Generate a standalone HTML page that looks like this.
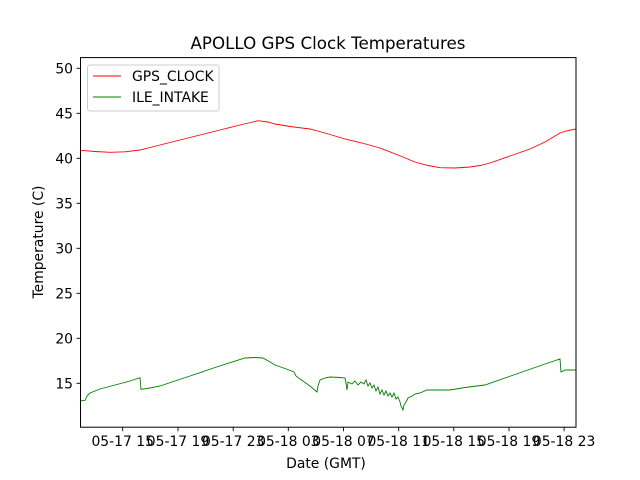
<!DOCTYPE html>
<html><head><meta charset="utf-8"><style>body{margin:0;background:#fff}svg{display:block}text{font-family:"DejaVu Sans","Liberation Sans",sans-serif;fill:#000}</style></head>
<body>
<svg width="640" height="480" viewBox="0 0 640 480" xmlns="http://www.w3.org/2000/svg">
<rect width="640" height="480" fill="#fff"/>
<text x="328" y="49" font-size="16.7" text-anchor="middle">APOLLO GPS Clock Temperatures</text>
<polyline fill="none" stroke="#ff0000" stroke-width="0.9" points="81,150.3 95,151.5 110,152.3 125,151.8 140,150 160,145 180,140 200,135 220,130 240,125 258,120.7 268,122 275,124 290,126.5 310,129 325,133 345,139 362,143 380,148 398,155 415,162 428,165.5 440,167.7 455,168 470,167 480,165.5 490,163 510,156 530,149 545,142 560,133 566,131 576,129"/>
<polyline fill="none" stroke="#008000" stroke-width="0.9" points="81,400.7 85,400.5 87,396 90,393 100,389 115,385 130,381 140,377.7 141,389.3 150,388 160,386 175,381 190,376 200,372.7 215,367.5 230,362.7 245,358 255,357.5 263,358 270,362 275,365 285,368.5 294,372 296,376 300,379 310,386 317,392 318,386 320,380 325,378 330,377 340,377.5 345,378 346,383 347,390 348,382 352,384 355,381 358,385 361,382 364,384 366,380 368,386 370,383 372,388 374,385 376,391 378,387 380,394 382,390 384,395 386,391 388,396 390,393 392,397 394,393 396,399 398,397 400,402 401,406 403,410 404,405 406,402 408,398 412,396 415,394 420,393 427,390 440,390 450,390 465,387.5 485,385 505,378 525,371 545,364 560,359 561,372 565,370 576,370"/>
<rect x="80.5" y="57.6" width="495.5" height="369.6" fill="none" stroke="#000" stroke-width="1"/>
<g stroke="#000" stroke-width="0.9">
<line x1="76.5" y1="68.3" x2="80.5" y2="68.3"/><line x1="76.5" y1="113.3" x2="80.5" y2="113.3"/><line x1="76.5" y1="158.3" x2="80.5" y2="158.3"/><line x1="76.5" y1="203.3" x2="80.5" y2="203.3"/><line x1="76.5" y1="248.3" x2="80.5" y2="248.3"/><line x1="76.5" y1="293.3" x2="80.5" y2="293.3"/><line x1="76.5" y1="338.3" x2="80.5" y2="338.3"/><line x1="76.5" y1="383.3" x2="80.5" y2="383.3"/>
<line x1="122.7" y1="427.2" x2="122.7" y2="431.2"/><line x1="178" y1="427.2" x2="178" y2="431.2"/><line x1="233.2" y1="427.2" x2="233.2" y2="431.2"/><line x1="288.3" y1="427.2" x2="288.3" y2="431.2"/><line x1="343.5" y1="427.2" x2="343.5" y2="431.2"/><line x1="398.7" y1="427.2" x2="398.7" y2="431.2"/><line x1="453.8" y1="427.2" x2="453.8" y2="431.2"/><line x1="509" y1="427.2" x2="509" y2="431.2"/><line x1="564.1" y1="427.2" x2="564.1" y2="431.2"/>
</g>
<g font-size="13.9" text-anchor="end">
<text x="73" y="73.3">50</text><text x="73" y="118.3">45</text><text x="73" y="163.3">40</text><text x="73" y="208.3">35</text><text x="73" y="253.3">30</text><text x="73" y="298.3">25</text><text x="73" y="343.3">20</text><text x="73" y="388.3">15</text>
</g>
<g font-size="13.9" text-anchor="middle">
<text x="122.7" y="446">05-17 15</text><text x="178" y="446">05-17 19</text><text x="233.2" y="446">05-17 23</text><text x="288.3" y="446">05-18 03</text><text x="343.5" y="446">05-18 07</text><text x="398.7" y="446">05-18 11</text><text x="453.8" y="446">05-18 15</text><text x="509" y="446">05-18 19</text><text x="564.1" y="446">05-18 23</text>
</g>
<text x="326" y="468" font-size="13.9" text-anchor="middle">Date (GMT)</text>
<text transform="translate(43,242) rotate(-90)" font-size="13.9" text-anchor="middle">Temperature (C)</text>
<rect x="87.5" y="65" width="131.5" height="46" rx="2.5" fill="#fff" fill-opacity="0.8" stroke="#cccccc" stroke-width="1"/>
<line x1="93" y1="76" x2="121" y2="76" stroke="#ff0000" stroke-width="0.9"/>
<line x1="93" y1="97" x2="121" y2="97" stroke="#008000" stroke-width="0.9"/>
<text x="132" y="81" font-size="13.9">GPS_CLOCK</text>
<text x="132" y="102" font-size="13.9">ILE_INTAKE</text>
</svg>
</body></html>
